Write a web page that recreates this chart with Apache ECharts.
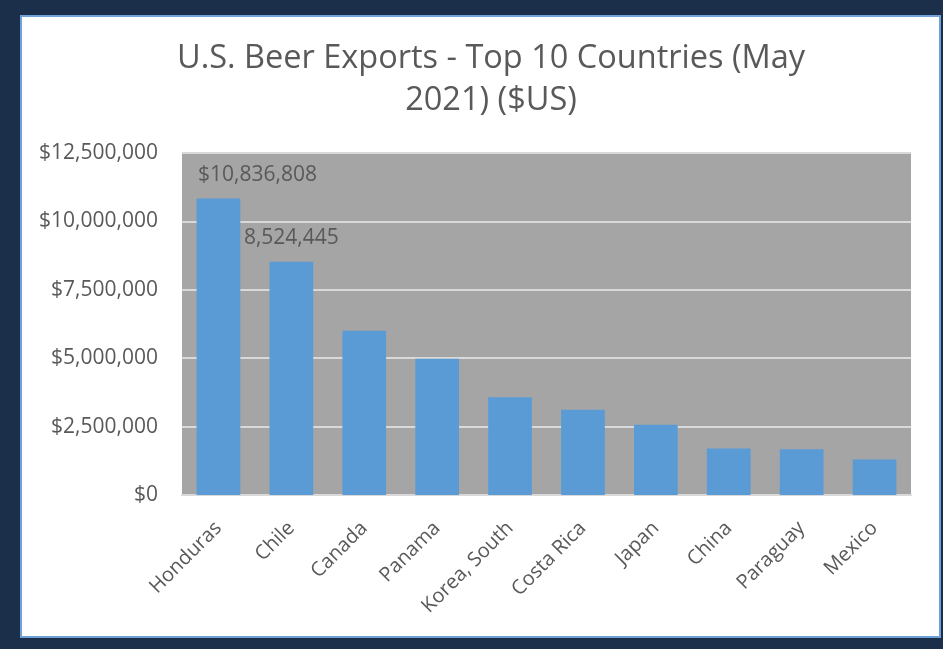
<!DOCTYPE html>
<html>
<head>
<meta charset="utf-8">
<script src="https://cdn.jsdelivr.net/npm/echarts@6/dist/echarts.min.js"></script>
<style>
  html, body { margin: 0; padding: 0; background: #1b2e4a; }
  #chart { width: 943px; height: 649px; }
</style>
</head>
<body>
<div id="chart"></div>
<script>
const categories = ['Honduras', 'Chile', 'Canada', 'Panama', 'Korea, South', 'Costa Rica', 'Japan', 'China', 'Paraguay', 'Mexico'];
const exportValues = [10836808, 8524445, 6000000, 4980000, 3570000, 3120000, 2570000, 1700000, 1670000, 1300000];
const labelPrefixes = ['$', '', null, null, null, null, null, null, null, null];
const yTicks = [0, 2500000, 5000000, 7500000, 10000000, 12500000];

const FONT = 'Open Sans';
const TEXT = '#595959';

function fmt(v) {
  return String(v).replace(/\B(?=(\d{3})+(?!\d))/g, ',');
}

const seriesData = exportValues.map(function (v, i) {
  const item = { value: v };
  if (labelPrefixes[i] !== null) {
    item.label = {
      show: true,
      position: 'top',
      distance: 13,
      offset: i === 0 ? [39, 0] : [0, 0],
      formatter: labelPrefixes[i] + fmt(v),
      color: TEXT,
      fontFamily: FONT,
      fontSize: 21
    };
  }
  return item;
});

const chart = echarts.init(document.getElementById('chart'));
chart.setOption({
  backgroundColor: '#1b2e4a',
  animation: false,
  graphic: [{
    type: 'rect',
    z: -10,
    shape: { x: 21, y: 16, width: 919, height: 621 },
    style: { fill: '#ffffff', stroke: '#6fa0d8', lineWidth: 2 }
  }],
  title: {
    text: 'U.S. Beer Exports - Top 10 Countries (May\n2021) ($US)',
    left: 486,
    textAlign: 'center',
    top: 33,
    textStyle: {
      fontFamily: FONT,
      fontSize: 32.5,
      fontWeight: 'normal',
      color: TEXT,
      lineHeight: 42
    }
  },
  grid: {
    left: 182, right: 32, top: 153, bottom: 154,
    show: true,
    backgroundColor: '#a5a5a5',
    borderWidth: 0
  },
  xAxis: {
    type: 'category',
    data: categories,
    axisLine: { lineStyle: { color: '#d9d9d9', width: 2 } },
    axisTick: { show: false },
    axisLabel: {
      interval: 0,
      rotate: 45,
      margin: 30,
      color: TEXT,
      fontFamily: FONT,
      fontSize: 20
    }
  },
  yAxis: {
    type: 'value',
    min: 0,
    max: yTicks[yTicks.length - 1],
    interval: yTicks[1] - yTicks[0],
    axisLine: { show: false },
    axisTick: { show: false },
    splitLine: { lineStyle: { color: '#d9d9d9', width: 2 } },
    axisLabel: {
      margin: 24,
      color: TEXT,
      fontFamily: FONT,
      fontSize: 21,
      formatter: function (v) { return '$' + fmt(v); }
    }
  },
  series: [{
    type: 'bar',
    data: seriesData,
    barWidth: '60%',
    itemStyle: { color: '#5b9bd5' }
  }]
});
</script>
</body>
</html>
